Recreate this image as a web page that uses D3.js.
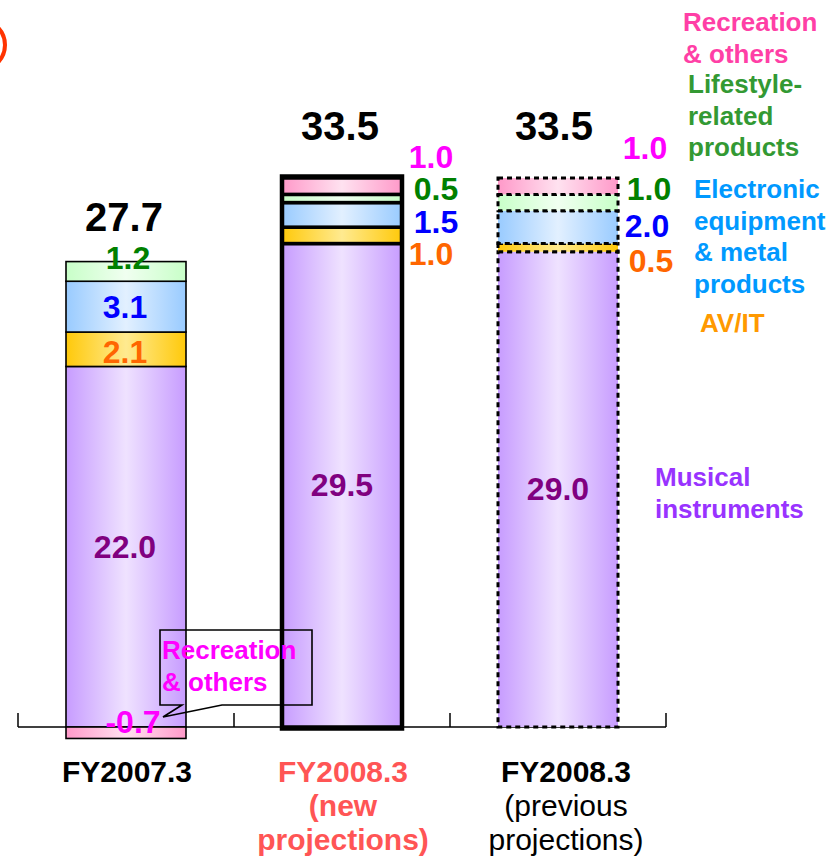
<!DOCTYPE html>
<html>
<head>
<meta charset="utf-8">
<script src="https://cdn.jsdelivr.net/npm/d3@7"></script>
<style>
  body { margin: 0; background: #fff; }
  svg text { font-family: "Liberation Sans", Arial, sans-serif; }
</style>
</head>
<body>
<div id="chart"></div>
<script>
'use strict';

// data
var categories = ['FY2007.3', 'FY2008.3 new', 'FY2008.3 previous'];
var segments = ['musical', 'avit', 'electronic', 'lifestyle', 'recreation'];
var musical = [22.0, 29.5, 29.0];
var avit = [2.1, 1.0, 0.5];
var electronic = [3.1, 1.5, 2.0];
var lifestyle = [1.2, 0.5, 1.0];
var recreation = [-0.7, 1.0, 1.0];
var totals = [27.7, 33.5, 33.5];
var categoryLines = [
    ['FY2007.3'],
    ['FY2008.3', '(new', 'projections)'],
    ['FY2008.3', '(previous', 'projections)']
];
var legendLines = {
    recreation: ['Recreation', '& others'],
    lifestyle: ['Lifestyle-', 'related', 'products'],
    electronic: ['Electronic', 'equipment', '& metal', 'products'],
    avit: ['AV/IT'],
    musical: ['Musical', 'instruments']
};

var width = 826, height = 858;

var fills = {
    musical: ['#c79cff', '#efe2ff'],
    avit: ['#ffc90a', '#ffea90'],
    electronic: ['#99cbff', '#e2f0ff'],
    lifestyle: ['#c8ffc8', '#f0fff0'],
    recreation: ['#ff99c9', '#ffe2f0']
};
var valueColor = {
    musical: '#800080', avit: '#ff6600', electronic: '#0000ff',
    lifestyle: '#008000', recreation: '#ff00ff'
};
var legendColor = {
    recreation: '#ff3fa6', lifestyle: '#339933', electronic: '#0099ff',
    avit: '#ff9900', musical: '#9933ff'
};

var rows = categories.map(function(c, i) {
    return {
        category: c, musical: musical[i], avit: avit[i], electronic: electronic[i],
        lifestyle: lifestyle[i], recreation: recreation[i]
    };
});

var stack = d3.stack().keys(segments).offset(d3.stackOffsetDiverging);
var series = stack(rows);

var x = d3.scaleBand().domain(categories).range([18, 666]).paddingInner(0).paddingOuter(0);
var y = d3.scaleLinear().domain([0, 33.5]).range([727, 178]);
var barW = 120;

var svg = d3.select('#chart').append('svg')
    .attr('width', width)
    .attr('height', height);

var defs = svg.append('defs');
segments.forEach(function(k) {
    var g = defs.append('linearGradient').attr('id', 'grad-' + k)
        .attr('x1', '0%').attr('x2', '100%').attr('y1', '0%').attr('y2', '0%');
    g.append('stop').attr('offset', '0%').attr('stop-color', fills[k][0]);
    g.append('stop').attr('offset', '50%').attr('stop-color', fills[k][1]);
    g.append('stop').attr('offset', '100%').attr('stop-color', fills[k][0]);
});

// red ring partly off the page
svg.append('circle').attr('cx', -20).attr('cy', 45).attr('r', 25)
    .attr('fill', 'none').attr('stroke', '#ff3300').attr('stroke-width', 4);

// axis
var axisY = y(0);
svg.append('line').attr('x1', 18).attr('x2', 666).attr('y1', axisY).attr('y2', axisY)
    .attr('stroke', '#000').attr('stroke-width', 1.5);
var tickXs = categories.map(function(c) { return x(c); }).concat([x.range()[1]]);
svg.selectAll('.tick').data(tickXs).enter().append('line')
    .attr('x1', function(d) { return d; }).attr('x2', function(d) { return d; })
    .attr('y1', axisY).attr('y2', axisY - 14)
    .attr('stroke', '#000').attr('stroke-width', 1.5);

var strokeStyle = [
    { w: 1.6, dash: null },
    { w: 3.5, dash: null },
    { w: 3, dash: '5,4' }
];

function barX(c) { return x(c) + (x.bandwidth() - barW) / 2; }

series.forEach(function(s) {
    svg.append('g').selectAll('rect')
        .data(s)
        .enter().append('rect')
        .attr('x', function(d) { return barX(d.data.category); })
        .attr('y', function(d) { return y(Math.max(d[0], d[1])); })
        .attr('width', barW)
        .attr('height', function(d) { return Math.abs(y(d[0]) - y(d[1])); })
        .attr('fill', 'url(#grad-' + s.key + ')')
        .attr('stroke', '#000')
        .attr('stroke-width', function(d, i) { return strokeStyle[i].w; })
        .attr('stroke-dasharray', function(d, i) { return strokeStyle[i].dash; });
});

// thick outline for the new projections bar
svg.append('rect')
    .attr('x', barX(categories[1])).attr('y', y(totals[1]) - 1.5)
    .attr('width', barW).attr('height', y(0) - y(totals[1]) + 3)
    .attr('fill', 'none').attr('stroke', '#000').attr('stroke-width', 4.5);

function bold(sel) { return sel.style('font-weight', 'bold'); }

// totals
bold(svg.selectAll('.total').data(totals).enter().append('text'))
    .attr('x', function(d, i) { return x(categories[i]) + x.bandwidth() / 2 + (i === 2 ? -4 : -2); })
    .attr('y', function(d, i) { return y(d) - (i === 0 ? 42 : 38); })
    .attr('text-anchor', 'middle')
    .attr('font-size', 40)
    .attr('fill', '#000')
    .text(function(d) { return d.toFixed(1); });

// value labels
var fs = 32;
function seg(key, i) {
    return series[segments.indexOf(key)][i];
}
// first bar: labels inside the segments
['musical', 'avit', 'electronic', 'lifestyle'].forEach(function(k) {
    var d = seg(k, 0);
    var cy = (y(d[0]) + y(d[1])) / 2;
    var dy = k === 'lifestyle' ? -13 : (k === 'avit' ? 3 : 0);
    bold(svg.append('text'))
        .attr('x', x(categories[0]) + x.bandwidth() / 2 - 1 + (k === 'lifestyle' ? 3 : 0))
        .attr('y', cy + dy + 11)
        .attr('text-anchor', 'middle')
        .attr('font-size', fs)
        .attr('fill', valueColor[k])
        .text(rows[0][k].toFixed(1));
});
bold(svg.append('text'))
    .attr('x', x(categories[0]) + x.bandwidth() / 2 + 7)
    .attr('y', y(0) + 6)
    .attr('text-anchor', 'middle')
    .attr('font-size', fs)
    .attr('fill', valueColor.recreation)
    .text(recreation[0].toFixed(1));

// musical value inside bars 2 and 3
[1, 2].forEach(function(i) {
    var d = seg('musical', i);
    bold(svg.append('text'))
        .attr('x', x(categories[i]) + x.bandwidth() / 2)
        .attr('y', (y(d[0]) + y(d[1])) / 2 + 11)
        .attr('text-anchor', 'middle')
        .attr('font-size', fs)
        .attr('fill', valueColor.musical)
        .text(musical[i].toFixed(1));
});

// side labels for bars 2 and 3
var sideKeys = ['recreation', 'lifestyle', 'electronic', 'avit'];
var sideY = [[157, 189, 222, 254], [148, 189, 226, 261]];
var sideX = [[431, 436, 436, 431], [645, 649, 647, 651]];
[1, 2].forEach(function(i) {
    sideKeys.forEach(function(k, j) {
        bold(svg.append('text'))
            .attr('x', sideX[i - 1][j])
            .attr('y', sideY[i - 1][j] + 11)
            .attr('text-anchor', 'middle')
            .attr('font-size', fs)
            .attr('fill', valueColor[k])
            .text(rows[i][k].toFixed(1));
    });
});

// callout for the negative recreation value
var callout = svg.append('g');
callout.append('path')
    .attr('d', 'M182,705 L160,705 L160,630 L312,630 L312,705 L222,705 L163,717 Z')
    .attr('fill', 'none').attr('stroke', '#000').attr('stroke-width', 1.6);
bold(callout.selectAll('text').data(legendLines.recreation).enter().append('text'))
    .attr('x', 162).attr('y', function(d, i) { return 659 + i * 32; })
    .attr('font-size', 26)
    .attr('fill', '#ff00ff')
    .text(function(d) { return d; });

// legend on the right
var legendPos = {
    recreation: { x: 683, y: 31 },
    lifestyle: { x: 688, y: 93 },
    electronic: { x: 694, y: 198 },
    avit: { x: 700, y: 332 },
    musical: { x: 655, y: 486 }
};
segments.forEach(function(k) {
    bold(svg.append('g').selectAll('text').data(legendLines[k]).enter().append('text'))
        .attr('x', legendPos[k].x)
        .attr('y', function(d, i) { return legendPos[k].y + i * 31.5; })
        .attr('font-size', 26)
        .attr('fill', legendColor[k])
        .text(function(d) { return d; });
});

// category labels
var catColor = ['#000', '#ff5555', '#000'];
categoryLines.forEach(function(lines, i) {
    svg.append('g').selectAll('text').data(lines).enter().append('text')
        .attr('x', x(categories[i]) + x.bandwidth() / 2 + (i === 2 ? 8 : 1))
        .attr('y', function(d, j) { return 782 + j * 34; })
        .attr('text-anchor', 'middle')
        .attr('font-size', 30)
        .style('font-weight', function(d, j) { return (i === 2 && j > 0) ? 'normal' : 'bold'; })
        .attr('fill', catColor[i])
        .text(function(d) { return d; });
});
</script>
</body>
</html>
